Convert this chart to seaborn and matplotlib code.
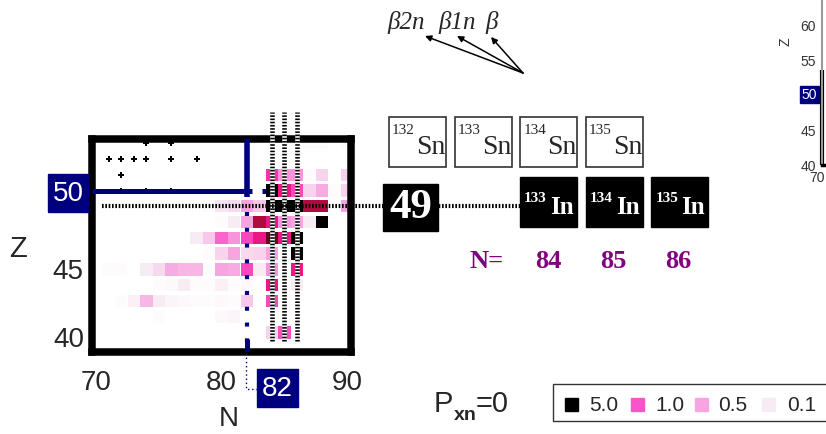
import pandas as pd
import matplotlib
matplotlib.use("Agg")
import matplotlib.pyplot as plt
from matplotlib.colors import LinearSegmentedColormap
from matplotlib.patches import Rectangle
import seaborn as sns

# cells of the N-Z chart: neutron number, proton number, P_xn=0 (%)
cell_n = [87, 88, 90,
          84, 85, 86, 87, 88, 90,
          84, 85, 86, 87, 88, 89, 90,
          79, 80, 81, 82, 83, 84, 85, 86, 87, 88, 90,
          80, 81, 82, 83, 84, 85, 86, 87, 88,
          78, 79, 80, 81, 82, 83, 84, 85, 86,
          79, 80, 81, 82, 83, 84, 86,
          71, 72, 74, 75, 76, 77, 78, 79, 80, 81, 82, 83, 84, 86,
          75, 76, 77, 78, 79, 80, 81, 82, 84, 86,
          72, 73, 74, 75, 76, 77, 78, 79, 80, 81, 82, 84,
          75, 80, 81,
          84, 85]
cell_z = [53, 53, 53,
          51, 51, 51, 51, 51, 51,
          50, 50, 50, 50, 50, 50, 50,
          49, 49, 49, 49, 49, 49, 49, 49, 49, 49, 49,
          48, 48, 48, 48, 48, 48, 48, 48, 48,
          47, 47, 47, 47, 47, 47, 47, 47, 47,
          46, 46, 46, 46, 46, 46, 46,
          45, 45, 45, 45, 45, 45, 45, 45, 45, 45, 45, 45, 45, 45,
          44, 44, 44, 44, 44, 44, 44, 44, 44, 44,
          43, 43, 43, 43, 43, 43, 43, 43, 43, 43, 43, 43,
          42, 42, 42,
          41, 41]
cell_p = [0.03, 0.03, 0.03,
          1.5, 0.6, 0.6, 0.03, 0.25, 0.25,
          5.0, 2.0, 1.2, 0.25, 0.45, 0.02, 0.25,
          0.02, 0.15, 0.2, 0.5, 0.3, 5.0, 5.0, 5.0, 3.0, 3.0, 0.5,
          0.03, 0.1, 0.5, 3.0, 2.0, 0.6, 0.5, 0.1, 5.0,
          0.1, 0.3, 0.9, 0.6, 1.2, 2.0, 4.0, 2.0, 5.0,
          0.03, 0.25, 0.5, 0.2, 0.25, 0.5, 5.0,
          0.02, 0.03, 0.1, 0.2, 0.45, 0.4, 0.4, 0.03, 0.5, 0.45, 1.2, 0.1, 0.6, 2.0,
          0.02, 0.04, 0.1, 0.03, 0.02, 0.08, 0.03, 0.05, 2.0, 0.1,
          0.03, 0.08, 0.4, 0.1, 0.06, 0.04, 0.03, 0.03, 0.05, 0.03, 0.3, 1.2,
          0.02, 0.04, 0.06,
          0.25, 1.1]

# stable / known nuclei marks (top left)
plus_n = [74, 76, 71, 72, 73, 74, 76, 78, 72, 72, 74, 76]
plus_z = [53, 53, 52, 52, 52, 52, 52, 52, 51, 50, 50, 50]

legend_vals = [5.0, 1.0, 0.5, 0.1]
sn_masses = [132, 133, 134, 135]
in_masses = [133, 134, 135]
n_labels = [84, 85, 86]
decay_labels = ["β2n", "β1n", "β"]

navy = "#00007f"
purple = "#800080"
pxn_cmap = LinearSegmentedColormap.from_list("pxn", [
    (0.0, "#ffffff"), (0.02, "#f8ecf4"), (0.1, "#f8a2e0"), (0.2, "#fa55c8"),
    (0.4, "#ec1684"), (0.6, "#b00a3e"), (0.8, "#620a1c"), (1.0, "#000000")])

sns.set_style("white")
plt.rcParams["font.family"] = ["Liberation Sans", "DejaVu Sans"]

W, H = 826, 434
fig = plt.figure(figsize=(W / 100, H / 100), dpi=100)


def px(x0, y0, x1, y1):
    return [x0 / W, 1 - y1 / H, (x1 - x0) / W, (y1 - y0) / H]


# ---- main N-Z panel ----
ax = fig.add_axes(px(92.3, 139, 351, 351.7))
df = pd.DataFrame({"N": cell_n, "Z": cell_z, "P": cell_p})
sns.scatterplot(data=df, x="N", y="Z", hue="P", palette=pxn_cmap, hue_norm=(0, 5),
                marker="s", s=80, linewidth=0, legend=False, ax=ax, zorder=2)
sns.scatterplot(x=plus_n, y=plus_z, marker="P", s=18, color="black", linewidth=0,
                legend=False, ax=ax, zorder=2)

ax.set_xlim(69.7, 90.3)
ax.set_ylim(40.0 - 0.23, 53.27)
ax.set_xlabel("")
ax.set_ylabel("")
for sp in ax.spines.values():
    sp.set_linewidth(5.4)
    sp.set_color("black")

ax.set_xticks([70, 80, 90])
ax.set_xticklabels(["70", "80", "90"])
ax.set_xticks(range(70, 91), minor=True)
ax.set_yticks([40, 45, 50])
ax.set_yticklabels(["", "45", ""])
ax.set_yticks(range(40, 54), minor=True)
ax.tick_params(axis="x", which="major", direction="in", length=9, width=1.5,
               labelsize=20, pad=13, top=False)
ax.tick_params(axis="x", which="minor", direction="in", length=6, width=1.5, top=False)
ax.tick_params(axis="y", which="major", direction="in", length=12.7, width=1.5,
               labelsize=20, pad=6.5, right=False)
ax.tick_params(axis="y", which="minor", direction="in", length=7.7, width=1.5, right=False)

# N=82 / Z=50 shell closures
ax.plot([69.7, 82.45], [50, 50], color=navy, lw=3.6, solid_capstyle="butt", zorder=3)
ax.plot([82, 82], [53.3, 49.6], color=navy, lw=4, solid_capstyle="butt", zorder=3)
ax.plot([82, 82], [48.63, 39.77], color=navy, lw=3, dashes=(0.96, 2.83),
        dash_capstyle="butt", zorder=3)
ax.plot([82, 82], [40.6, 39.77], color=navy, lw=3.6, solid_capstyle="butt", zorder=3)
ax.plot([83.25, 90.3], [50, 50], color=navy, lw=3.6, dashes=(0.8, 6.7),
        dash_capstyle="butt", zorder=1.5)

# beta-delayed paths: vertical N lines and the Z=49 row
for n in n_labels:
    ax.plot([n, n], [40.45, 55.0], color="white", lw=3.3, solid_capstyle="butt",
            zorder=6, clip_on=False)
    ax.plot([n, n], [40.45, 55.0], color="black", lw=3.3, dashes=(0.35, 0.35),
            dash_capstyle="butt", zorder=7, clip_on=False)
ax.plot([70.45, 103.8], [49, 49], color="black", lw=3.0, dashes=(0.4, 0.4),
        dash_capstyle="butt", zorder=7, clip_on=False)

# ---- overlay in pixel coordinates for the schematic ----
ov = fig.add_axes([0, 0, 1, 1], zorder=5)
ov.set_xlim(0, W)
ov.set_ylim(H, 0)
ov.axis("off")
ov.patch.set_alpha(0)

ov.text(18, 249, "Z", fontsize=21, ha="center", va="center")
ov.text(229, 419, "N", fontsize=20, ha="center", va="center")
ov.text(84, 340, "40", fontsize=20, ha="right", va="center")
ov.add_patch(Rectangle((48, 174), 40, 38, color=navy))
ov.text(68, 194, "50", fontsize=20, color="white", ha="center", va="center")
ov.plot([245.7, 245.7, 257], [353, 389, 389], color=navy, lw=1, ls=(0, (1, 2)))
ov.add_patch(Rectangle((257, 369), 41, 38, color=navy))
ov.text(277.5, 389, "82", fontsize=20, color="white", ha="center", va="center")

serif = ["Liberation Serif", "DejaVu Serif"]
for i, m in enumerate(sn_masses):
    x0 = 389 + i * 65.7
    ov.add_patch(Rectangle((x0, 117), 57, 50, facecolor="white", edgecolor="#333333", lw=1.2))
    ov.text(x0 + 3, 134, str(m), fontsize=11, family=serif, va="baseline")
    ov.text(x0 + 27, 154, "Sn", fontsize=20, family=serif, va="baseline")

for i, m in enumerate(in_masses):
    x0 = 520 + i * 65.7
    ov.add_patch(Rectangle((x0, 177), 57, 50, color="black"))
    ov.text(x0 + 4, 202, str(m), fontsize=11, family=serif, weight="bold",
            color="white", va="baseline")
    ov.text(x0 + 30, 214, "In", fontsize=18, family=serif, weight="bold",
            color="white", va="baseline")

ov.add_patch(Rectangle((383, 184), 55, 47, color="black"))
ov.text(410.5, 208, "49", fontsize=31, family=serif, weight="bold", color="white",
        ha="center", va="center")

ov.text(470, 268, "N=", fontsize=19, family=serif, weight="bold", color=purple, va="baseline")
for i, n in enumerate(n_labels):
    ov.text(548 + i * 65, 268, str(n), fontsize=19, family=serif, weight="bold",
            color=purple, ha="center", va="baseline")

for lab, x0, tip in zip(decay_labels, [387, 438, 485], [(425, 36), (457, 36), (491, 37)]):
    ov.text(x0, 29, lab, fontsize=18, family=serif, style="italic", va="baseline")
    ov.annotate("", xy=tip, xytext=(523, 73),
                arrowprops=dict(arrowstyle="-|>", lw=1.1, color="black", mutation_scale=9,
                                shrinkA=0, shrinkB=0))

# legend
ov.text(434, 412, "P", fontsize=21, va="baseline")
ov.text(454, 420, "xn", fontsize=14, weight="bold", va="baseline")
ov.text(476, 412, "=0", fontsize=21, va="baseline")
ov.add_patch(Rectangle((553, 384), 320, 37, facecolor="white", edgecolor="#333333", lw=1))
for v, sx, tx in zip(legend_vals, [565, 631, 695, 762], [589, 655, 718, 787]):
    ov.add_patch(Rectangle((sx, 398), 13, 13, color=pxn_cmap(v / 5.0)))
    ov.text(tx, 411, f"{v:.1f}", fontsize=15, va="baseline")

# ---- cut-off neighbouring panel (top right) ----
ins = fig.add_axes(px(822, 0, 900, 165))
ins.set_xlim(70, 90)
ins.set_ylim(40, 63.6)
ins.spines["top"].set_visible(False)
ins.spines["right"].set_visible(False)
ins.spines["left"].set_color("#9a9a9a")
ins.spines["left"].set_linewidth(1.5)
ins.spines["bottom"].set_linewidth(2.5)
ins.spines["bottom"].set_color("black")
ins.plot([70, 70], [40, 53.6], color="black", lw=3, solid_capstyle="butt", clip_on=False)
ins.set_yticks([40, 45, 55, 60])
ins.set_yticklabels(["40", "45", "55", "60"])
ins.set_yticks(range(40, 64), minor=True)
ins.set_xticks([])
ins.tick_params(axis="y", which="both", direction="inout", length=3, width=0.8,
                colors="#9a9a9a", labelcolor="#333333", labelsize=10, pad=3)
ov.text(825, 178, "70", fontsize=10, color="#333333", ha="right", va="center")
ov.add_patch(Rectangle((800, 86), 19, 17, color=navy))
ov.text(809.5, 95, "50", fontsize=10, color="white", ha="center", va="center")
ov.text(786, 42, "Z", fontsize=10, color="#333333", rotation=90, ha="center", va="center")

fig.savefig("out.png", dpi=100)
